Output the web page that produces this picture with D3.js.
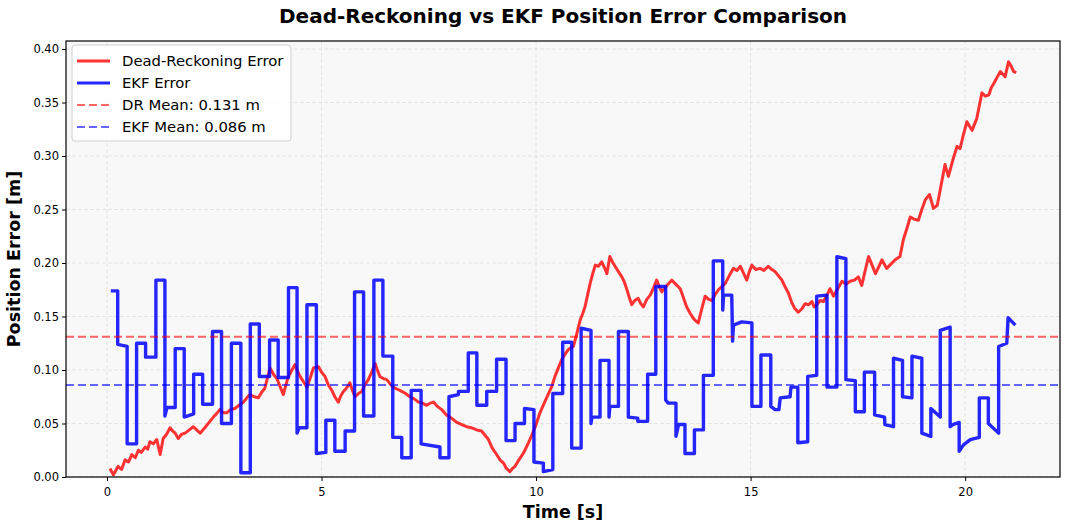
<!DOCTYPE html>
<html>
<head>
<meta charset="utf-8">
<script src="https://cdn.jsdelivr.net/npm/d3@7"></script>
<style>
  body { margin: 0; background: #fff; }
  text { font-family: "DejaVu Sans", sans-serif; }
</style>
</head>
<body>
<svg id="chart" width="1065" height="528"></svg>
<script>
// Dead-reckoning error trace [time s, error m]
const drError = [
  [0.07, 0.008], [0.15, 0.002], [0.26, 0.010], [0.34, 0.007], [0.42, 0.016], [0.50, 0.014],
  [0.58, 0.021], [0.66, 0.018], [0.73, 0.025], [0.80, 0.023], [0.89, 0.028], [0.95, 0.026],
  [1.00, 0.033], [1.08, 0.031], [1.16, 0.035], [1.24, 0.021], [1.31, 0.036], [1.39, 0.040],
  [1.47, 0.046], [1.53, 0.043], [1.59, 0.041], [1.66, 0.036], [1.74, 0.040], [1.82, 0.041],
  [1.92, 0.044], [2.01, 0.047], [2.09, 0.044], [2.17, 0.041], [2.28, 0.046], [2.38, 0.051],
  [2.48, 0.056], [2.55, 0.059], [2.63, 0.063], [2.71, 0.060], [2.79, 0.060], [2.88, 0.063],
  [2.98, 0.064], [3.08, 0.067], [3.18, 0.070], [3.26, 0.074], [3.33, 0.077], [3.43, 0.075],
  [3.53, 0.074], [3.60, 0.079], [3.68, 0.083], [3.75, 0.094], [3.80, 0.102], [3.88, 0.096],
  [3.96, 0.092], [4.04, 0.084], [4.11, 0.077], [4.17, 0.086], [4.23, 0.094], [4.31, 0.100],
  [4.38, 0.105], [4.44, 0.099], [4.50, 0.094], [4.58, 0.089], [4.66, 0.084], [4.74, 0.093],
  [4.81, 0.102], [4.93, 0.103], [5.00, 0.098], [5.08, 0.094], [5.16, 0.086], [5.24, 0.081],
  [5.31, 0.075], [5.39, 0.070], [5.45, 0.076], [5.51, 0.080], [5.58, 0.083], [5.66, 0.088],
  [5.72, 0.081], [5.78, 0.075], [5.86, 0.078], [5.94, 0.080], [6.01, 0.086], [6.09, 0.091],
  [6.17, 0.098], [6.25, 0.106], [6.30, 0.100], [6.36, 0.094], [6.44, 0.092], [6.52, 0.091],
  [6.60, 0.087], [6.67, 0.084], [6.77, 0.082], [6.87, 0.080], [6.96, 0.078], [7.06, 0.075],
  [7.16, 0.073], [7.26, 0.070], [7.35, 0.069], [7.45, 0.067], [7.53, 0.069], [7.61, 0.070],
  [7.70, 0.066], [7.80, 0.063], [7.91, 0.058], [8.03, 0.055], [8.15, 0.051], [8.27, 0.049],
  [8.38, 0.047], [8.50, 0.046], [8.62, 0.044], [8.73, 0.043], [8.81, 0.039], [8.89, 0.035],
  [8.98, 0.027], [9.08, 0.021], [9.16, 0.016], [9.24, 0.013], [9.31, 0.008], [9.39, 0.005],
  [9.45, 0.008], [9.51, 0.010], [9.60, 0.016], [9.70, 0.022], [9.80, 0.030], [9.90, 0.039],
  [10.00, 0.049], [10.09, 0.060], [10.19, 0.069], [10.29, 0.078], [10.37, 0.085], [10.44, 0.094],
  [10.52, 0.102], [10.60, 0.110], [10.68, 0.115], [10.75, 0.119], [10.81, 0.121], [10.87, 0.122],
  [10.95, 0.134], [11.03, 0.147], [11.09, 0.153], [11.14, 0.159], [11.20, 0.170], [11.26, 0.181],
  [11.32, 0.190], [11.38, 0.198], [11.45, 0.197], [11.53, 0.201], [11.59, 0.196], [11.65, 0.190],
  [11.72, 0.206], [11.78, 0.201], [11.84, 0.197], [11.92, 0.192], [12.00, 0.187], [12.06, 0.182],
  [12.11, 0.176], [12.17, 0.168], [12.23, 0.161], [12.30, 0.165], [12.38, 0.167], [12.44, 0.162],
  [12.50, 0.159], [12.58, 0.166], [12.66, 0.170], [12.74, 0.177], [12.81, 0.184], [12.87, 0.178],
  [12.93, 0.173], [13.05, 0.179], [13.16, 0.184], [13.26, 0.180], [13.36, 0.176], [13.43, 0.168],
  [13.51, 0.159], [13.59, 0.153], [13.67, 0.148], [13.72, 0.146], [13.78, 0.144], [13.86, 0.157],
  [13.94, 0.169], [14.02, 0.166], [14.10, 0.165], [14.18, 0.171], [14.25, 0.175], [14.33, 0.178],
  [14.41, 0.181], [14.50, 0.188], [14.60, 0.195], [14.68, 0.193], [14.76, 0.197], [14.84, 0.190],
  [14.91, 0.184], [14.97, 0.192], [15.03, 0.198], [15.12, 0.194], [15.22, 0.195], [15.31, 0.193],
  [15.41, 0.197], [15.49, 0.194], [15.57, 0.192], [15.65, 0.188], [15.73, 0.184], [15.80, 0.178],
  [15.88, 0.172], [15.95, 0.164], [16.02, 0.158], [16.11, 0.154], [16.19, 0.157], [16.27, 0.162],
  [16.35, 0.161], [16.43, 0.164], [16.48, 0.159], [16.54, 0.161], [16.62, 0.165], [16.70, 0.164],
  [16.78, 0.170], [16.85, 0.176], [16.93, 0.169], [17.03, 0.176], [17.13, 0.183], [17.22, 0.180],
  [17.32, 0.183], [17.42, 0.184], [17.51, 0.187], [17.59, 0.179], [17.67, 0.193], [17.75, 0.206],
  [17.83, 0.198], [17.91, 0.190], [17.98, 0.196], [18.06, 0.203], [18.17, 0.195], [18.27, 0.199],
  [18.37, 0.203], [18.48, 0.206], [18.56, 0.222], [18.64, 0.232], [18.72, 0.243], [18.81, 0.241],
  [18.91, 0.240], [18.99, 0.250], [19.07, 0.259], [19.17, 0.264], [19.26, 0.251], [19.35, 0.254],
  [19.44, 0.273], [19.53, 0.292], [19.61, 0.281], [19.71, 0.296], [19.81, 0.309], [19.88, 0.307],
  [19.96, 0.320], [20.04, 0.332], [20.16, 0.324], [20.27, 0.335], [20.33, 0.347], [20.39, 0.359],
  [20.47, 0.356], [20.55, 0.357], [20.61, 0.364], [20.67, 0.368], [20.75, 0.374], [20.82, 0.379],
  [20.93, 0.374], [21.01, 0.388], [21.07, 0.384], [21.13, 0.379], [21.19, 0.378]
];

// EKF error trace [time s, error m] (step-like updates)
const ekfError = [
  [0.09, 0.174], [0.25, 0.174], [0.25, 0.124], [0.47, 0.122], [0.47, 0.031], [0.69, 0.031],
  [0.69, 0.125], [0.90, 0.125], [0.90, 0.112], [1.14, 0.112], [1.14, 0.184], [1.35, 0.184],
  [1.35, 0.057], [1.40, 0.065], [1.59, 0.065], [1.59, 0.120], [1.80, 0.120], [1.80, 0.056],
  [2.02, 0.059], [2.02, 0.096], [2.23, 0.096], [2.23, 0.068], [2.46, 0.068], [2.46, 0.136],
  [2.67, 0.136], [2.67, 0.050], [2.90, 0.050], [2.90, 0.125], [3.12, 0.125], [3.12, 0.004],
  [3.34, 0.004], [3.34, 0.143], [3.55, 0.143], [3.55, 0.094], [3.79, 0.094], [3.79, 0.128],
  [3.99, 0.128], [3.99, 0.093], [4.23, 0.093], [4.23, 0.177], [4.43, 0.177], [4.43, 0.041],
  [4.48, 0.046], [4.66, 0.046], [4.66, 0.161], [4.88, 0.161], [4.88, 0.022], [5.10, 0.023],
  [5.10, 0.053], [5.31, 0.053], [5.31, 0.024], [5.55, 0.024], [5.55, 0.043], [5.77, 0.043],
  [5.77, 0.173], [5.98, 0.173], [5.98, 0.057], [6.22, 0.057], [6.22, 0.184], [6.43, 0.184],
  [6.43, 0.113], [6.66, 0.113], [6.66, 0.037], [6.87, 0.037], [6.87, 0.018], [7.09, 0.018],
  [7.09, 0.081], [7.32, 0.081], [7.32, 0.031], [7.76, 0.028], [7.76, 0.018], [7.97, 0.018],
  [7.97, 0.075], [8.19, 0.077], [8.19, 0.080], [8.42, 0.080], [8.42, 0.116], [8.62, 0.116],
  [8.62, 0.067], [8.85, 0.067], [8.85, 0.080], [9.08, 0.080], [9.08, 0.110], [9.30, 0.110],
  [9.30, 0.034], [9.51, 0.034], [9.51, 0.050], [9.73, 0.050], [9.73, 0.064], [9.95, 0.063],
  [9.95, 0.014], [10.17, 0.013], [10.17, 0.005], [10.39, 0.007], [10.39, 0.078], [10.62, 0.078],
  [10.62, 0.126], [10.83, 0.126], [10.83, 0.027], [11.05, 0.027], [11.05, 0.139], [11.28, 0.137],
  [11.28, 0.050], [11.30, 0.056], [11.49, 0.056], [11.49, 0.109], [11.70, 0.109], [11.70, 0.056],
  [11.72, 0.066], [11.92, 0.066], [11.92, 0.136], [12.15, 0.136], [12.15, 0.056], [12.37, 0.055],
  [12.37, 0.052], [12.60, 0.052], [12.60, 0.096], [12.79, 0.096], [12.79, 0.178], [13.02, 0.178],
  [13.02, 0.072], [13.08, 0.069], [13.26, 0.069], [13.26, 0.038], [13.32, 0.049], [13.47, 0.049],
  [13.47, 0.022], [13.69, 0.022], [13.69, 0.044], [13.90, 0.044], [13.90, 0.095], [14.13, 0.095],
  [14.13, 0.202], [14.35, 0.202], [14.35, 0.156], [14.37, 0.170], [14.56, 0.170], [14.58, 0.127],
  [14.60, 0.142], [14.79, 0.145], [15.03, 0.144], [15.03, 0.066], [15.24, 0.066], [15.24, 0.114],
  [15.47, 0.114], [15.47, 0.066], [15.57, 0.063], [15.66, 0.063], [15.69, 0.074], [15.92, 0.075],
  [15.94, 0.084], [16.10, 0.084], [16.10, 0.032], [16.33, 0.033], [16.33, 0.094], [16.54, 0.095],
  [16.54, 0.169], [16.78, 0.170], [16.78, 0.084], [17.01, 0.084], [17.01, 0.206], [17.22, 0.204],
  [17.22, 0.091], [17.44, 0.090], [17.44, 0.061], [17.65, 0.061], [17.65, 0.098], [17.89, 0.098],
  [17.89, 0.058], [18.12, 0.056], [18.13, 0.049], [18.33, 0.047], [18.33, 0.111], [18.54, 0.109],
  [18.54, 0.075], [18.76, 0.074], [18.76, 0.113], [18.99, 0.111], [18.99, 0.041], [19.20, 0.038],
  [19.20, 0.064], [19.42, 0.056], [19.42, 0.137], [19.65, 0.140], [19.65, 0.047], [19.71, 0.049],
  [19.86, 0.051], [19.86, 0.024], [19.96, 0.030], [20.12, 0.035], [20.33, 0.037], [20.33, 0.074],
  [20.54, 0.074], [20.54, 0.050], [20.78, 0.041], [20.78, 0.122], [20.97, 0.125], [21.00, 0.149],
  [21.17, 0.142]
];

const drMean = 0.131;
const ekfMean = 0.086;
const xTicks = [0, 5, 10, 15, 20];
const yTicks = [0, 0.05, 0.10, 0.15, 0.20, 0.25, 0.30, 0.35, 0.40];
const legendItems = [
  { label: "Dead-Reckoning Error", color: "rgba(255,0,0,0.8)", dash: null, width: 3 },
  { label: "EKF Error", color: "rgba(0,0,255,0.85)", dash: null, width: 3 },
  { label: "DR Mean: 0.131 m", color: "rgba(255,0,0,0.6)", dash: "8,4", width: 2 },
  { label: "EKF Mean: 0.086 m", color: "rgba(0,0,255,0.6)", dash: "8,4", width: 2 }
];

const svg = d3.select("#chart");
const margin = { top: 41, right: 5, bottom: 51, left: 66 };
const width = 1065 - margin.left - margin.right;
const height = 528 - margin.top - margin.bottom;

const x = d3.scaleLinear().domain([-0.955, 22.21]).range([0, width]);
const y = d3.scaleLinear().domain([0, 0.4075]).range([height, 0]);

const g = svg.append("g").attr("transform", `translate(${margin.left},${margin.top})`);

g.append("rect").attr("width", width).attr("height", height).attr("fill", "#f8f8f8");

// grid
g.append("g").selectAll("line").data(xTicks).join("line")
  .attr("x1", d => x(d)).attr("x2", d => x(d)).attr("y1", 0).attr("y2", height)
  .attr("stroke", "#dedede").attr("stroke-width", 0.8).attr("stroke-dasharray", "4,2");
g.append("g").selectAll("line").data(yTicks).join("line")
  .attr("x1", 0).attr("x2", width).attr("y1", d => y(d)).attr("y2", d => y(d))
  .attr("stroke", "#dedede").attr("stroke-width", 0.8).attr("stroke-dasharray", "4,2");

const clip = g.append("clipPath").attr("id", "plot-clip");
clip.append("rect").attr("width", width).attr("height", height);
const plot = g.append("g").attr("clip-path", "url(#plot-clip)");

const line = d3.line().x(d => x(d[0])).y(d => y(d[1]));

plot.append("path").datum(drError)
  .attr("fill", "none").attr("stroke", "rgba(255,0,0,0.8)").attr("stroke-width", 3)
  .attr("stroke-linejoin", "round").attr("d", line);

plot.append("path").datum(ekfError)
  .attr("fill", "none").attr("stroke", "rgba(0,0,255,0.85)").attr("stroke-width", 3.4)
  .attr("stroke-linejoin", "round").attr("d", line);

// mean lines
[[drMean, "rgba(255,0,0,0.6)"], [ekfMean, "rgba(0,0,255,0.6)"]].forEach(([m, c]) => {
  plot.append("line").attr("x1", 0).attr("x2", width).attr("y1", y(m)).attr("y2", y(m))
    .attr("stroke", c).attr("stroke-width", 2).attr("stroke-dasharray", "8,4");
});

// axes
const xAxis = g.append("g").attr("transform", `translate(0,${height})`)
  .call(d3.axisBottom(x).tickValues(xTicks).tickFormat(d3.format("d")).tickSizeOuter(0).tickSize(4));
const yAxis = g.append("g")
  .call(d3.axisLeft(y).tickValues(yTicks).tickFormat(d3.format(".2f")).tickSizeOuter(0).tickSize(4));
[xAxis, yAxis].forEach(a => {
  a.select(".domain").remove();
  a.selectAll("text").attr("font-size", 11.5).attr("fill", "#000").style("font-family", "DejaVu Sans");
  a.selectAll("line").attr("stroke", "#000");
});
xAxis.selectAll("text").attr("dy", "1.05em");

g.append("rect").attr("width", width).attr("height", height)
  .attr("fill", "none").attr("stroke", "#000").attr("stroke-width", 1.2);

// title and labels
svg.append("text").attr("x", margin.left + width / 2).attr("y", 23)
  .attr("text-anchor", "middle").attr("font-size", 20).attr("font-weight", "bold")
  .text("Dead-Reckoning vs EKF Position Error Comparison");
svg.append("text").attr("x", margin.left + width / 2).attr("y", 518)
  .attr("text-anchor", "middle").attr("font-size", 17.5).attr("font-weight", "bold")
  .text("Time [s]");
svg.append("text").attr("transform", `translate(20,${margin.top + height / 2}) rotate(-90)`)
  .attr("text-anchor", "middle").attr("font-size", 17.5).attr("font-weight", "bold")
  .text("Position Error [m]");

// legend
const legend = g.append("g").attr("transform", "translate(6,4)");
legend.append("rect").attr("width", 219).attr("height", 96).attr("rx", 3)
  .attr("fill", "rgba(255,255,255,0.85)").attr("stroke", "#d0d0d0");
legendItems.forEach((d, i) => {
  const row = legend.append("g").attr("transform", `translate(0,${16 + i * 22})`);
  row.append("line").attr("x1", 5).attr("x2", 38).attr("y1", 0).attr("y2", 0)
    .attr("stroke", d.color).attr("stroke-width", d.width).attr("stroke-dasharray", d.dash);
  row.append("text").attr("x", 50).attr("y", 5).attr("font-size", 14.8).text(d.label);
});
</script>
</body>
</html>
